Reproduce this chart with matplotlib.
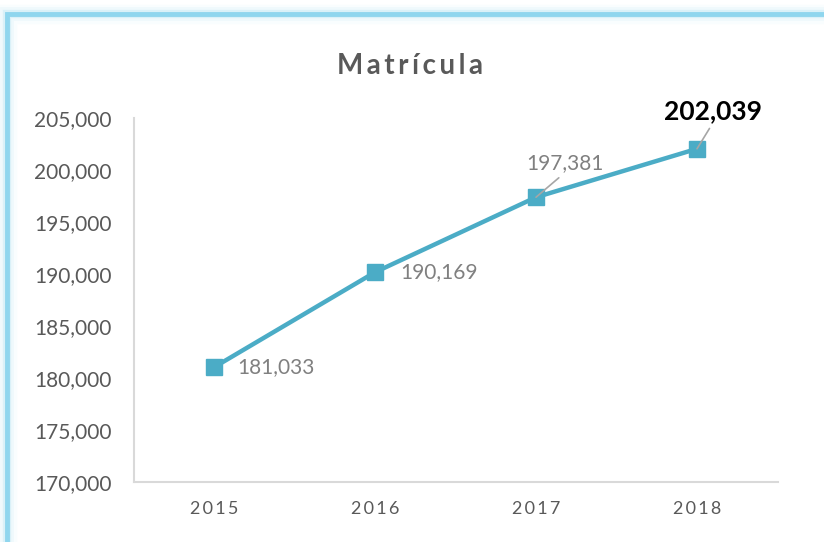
import matplotlib.pyplot as plt
from matplotlib.patches import Rectangle
from matplotlib.ticker import FuncFormatter

# data
years = ['2015', '2016', '2017', '2018']
matricula = [181033, 190169, 197381, 202039]
yticks = [170000, 175000, 180000, 185000, 190000, 195000, 200000, 205000]

line_col = '#4BACC6'
txt_col = '#595959'
lbl_col = '#808080'

plt.rcParams['font.family'] = ['Lato', 'DejaVu Sans']

fig = plt.figure(figsize=(8.24, 5.42), dpi=100)

# light blue frame with a soft glow, cut off at right and bottom
for lw, a in [(14, 0.06), (10, 0.10), (6, 0.25)]:
    fig.patches.append(Rectangle((7 / 824, -0.2), 1.2, (542 - 14) / 542 + 0.2,
                                 transform=fig.transFigure, fill=False,
                                 edgecolor='#9FDDF0', linewidth=lw, alpha=a))
fig.patches.append(Rectangle((7 / 824, -0.2), 1.2, (542 - 14) / 542 + 0.2,
                             transform=fig.transFigure, fill=False,
                             edgecolor='#8FD6EE', linewidth=3.5))

ax = fig.add_axes([133.5 / 824, 60 / 542, 644 / 824, 364 / 542])
x = range(len(years))
ax.plot(x, matricula, color=line_col, linewidth=3.2, marker='s',
        markersize=12, markerfacecolor=line_col, markeredgecolor=line_col,
        zorder=3)

ax.set_xlim(-0.5, 3.5)
ax.set_ylim(170000, 205000)
ax.set_yticks(yticks)
ax.yaxis.set_major_formatter(FuncFormatter(lambda v, p: f'{int(v):,}'))
ax.set_xticks(list(x))
ax.set_xticklabels(['\u2009'.join(y) for y in years], fontsize=13, color=txt_col)
ax.tick_params(axis='y', labelsize=15, colors=txt_col, length=0, pad=16)
ax.tick_params(axis='x', length=0, pad=14)

for s in ['top', 'right']:
    ax.spines[s].set_visible(False)
for s in ['left', 'bottom']:
    ax.spines[s].set_color('#D9D9D9')
    ax.spines[s].set_linewidth(1.5)

# data labels
ax.annotate(f'{matricula[0]:,}', (0, matricula[0]), xytext=(17, 0),
            textcoords='offset points', fontsize=15, color=lbl_col,
            va='center', ha='left')
ax.annotate(f'{matricula[1]:,}', (1, matricula[1]), xytext=(18, 0),
            textcoords='offset points', fontsize=15, color=lbl_col,
            va='center', ha='left')
ax.annotate(f'{matricula[2]:,}', (2, matricula[2]), xytext=(-7, 24.5),
            textcoords='offset points', fontsize=15, color=lbl_col,
            va='center', ha='left',
            arrowprops=dict(arrowstyle='-', color='#A6A6A6', lw=1.2,
                            shrinkA=2, shrinkB=0,
                            relpos=(0.49, 0.0)))
ax.annotate(f'{matricula[3]:,}', (3, matricula[3]), xytext=(-24, 27),
            textcoords='offset points', fontsize=19, color='black',
            fontweight='bold', va='center', ha='left',
            arrowprops=dict(arrowstyle='-', color='#A6A6A6', lw=1.2,
                            shrinkA=2, shrinkB=0,
                            relpos=(0.5, 0.0)))

fig.text(410 / 824, 1 - 66 / 542, '\u2009'.join('Matrícula'), ha='center',
         va='center', fontsize=20, color=txt_col, fontweight='bold')

fig.savefig('out.png', dpi=100)
